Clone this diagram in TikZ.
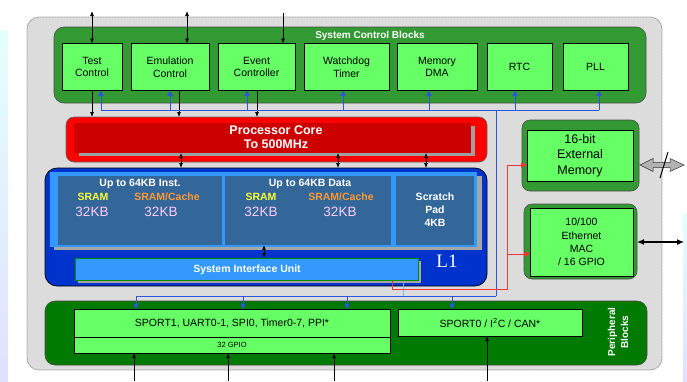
\documentclass[tikz,border=0pt]{standalone}
\usepackage{fontspec}
\setmainfont{Liberation Sans}
\newfontfamily\serifL{Liberation Serif}
\usetikzlibrary{arrows.meta}
\definecolor{bgray}{HTML}{DCDCDC}
\definecolor{scgreen}{HTML}{339933}
\definecolor{lgreen}{HTML}{66FF66}
\definecolor{pgreen}{HTML}{007A00}
\definecolor{cred}{HTML}{FF0000}
\definecolor{dred}{HTML}{CC0000}
\definecolor{lonblue}{HTML}{0033CC}
\definecolor{lblue}{HTML}{3399FF}
\definecolor{panel}{HTML}{336699}
\definecolor{busblue}{HTML}{2F55DD}
\definecolor{sramy}{HTML}{FFFF33}
\definecolor{sramo}{HTML}{FF9933}
\definecolor{kbpink}{HTML}{FFCCFF}
\definecolor{redline}{HTML}{FF3333}
\begin{document}
\begin{tikzpicture}[x=1pt,y=-1pt,
  every node/.style={inner sep=0pt, outer sep=0pt},
  frame/.style={draw=black!70, line width=0.6pt, rounded corners=10pt},
  gbox/.style={draw=black, line width=0.7pt, fill=lgreen, align=center,
    font=\fontsize{10.5}{12.5}\selectfont},
  wbold/.style={text=white, font=\bfseries\fontsize{10.5}{12.5}\selectfont, align=center},
  kb/.style={text=kbpink, font=\fontsize{13.5}{15}\selectfont},
  sramy/.style={text=sramy, font=\bfseries\fontsize{10.5}{12}\selectfont},
  sramo/.style={text=sramo, font=\bfseries\fontsize{10.5}{12}\selectfont},
  blk/.style={draw=black, line width=0.7pt, -{Latex[length=5pt,width=4pt]}},
  blk2/.style={draw=black, line width=0.7pt, {Latex[length=5pt,width=4pt]}-{Latex[length=5pt,width=4pt]}},
  bus/.style={draw=busblue, line width=0.7pt},
  busarr/.style={draw=busblue, line width=0.7pt, -{Triangle[length=5.5pt,width=5.5pt]}},
  redl/.style={draw=redline, line width=0.8pt},
  redarr/.style={draw=redline, line width=0.8pt, -{Triangle[length=6pt,width=5pt]}}
]
\useasboundingbox (0,0) rectangle (687,381);
% side strips of the slide background
\shade[top color=cyan!10, bottom color=blue!12] (0,30) rectangle (8,381);
\shade[top color=cyan!10, bottom color=blue!12] (683,213) rectangle (687,381);

% outer chip
\node[draw=gray!80, line width=0.8pt, dash pattern=on 1pt off 0.5pt, fill=bgray, rounded corners=12pt,
  minimum width=635pt, minimum height=353pt] (chip) at (344.5,193.5) {};

% system control blocks
\node[frame, fill=scgreen, minimum width=592pt, minimum height=76pt] (sc) at (350,65) {};
\node[wbold, font=\bfseries\fontsize{10}{12}\selectfont] (sctitle) at (370,36) {System Control Blocks};
\node[gbox, minimum width=60pt, minimum height=47pt] (tc) at (92,67) {Test\\Control};
\node[gbox, minimum width=78pt, minimum height=47pt] (ec) at (170,67) {Emulation\\Control};
\node[gbox, minimum width=77pt, minimum height=47pt] (evc) at (256.5,67) {Event\\Controller};
\node[gbox, minimum width=85pt, minimum height=47pt] (wd) at (346.5,67) {Watchdog\\Timer};
\node[gbox, minimum width=80pt, minimum height=47pt] (md) at (437,67) {Memory\\DMA};
\node[gbox, minimum width=65pt, minimum height=47pt] (rtc) at (519.5,67) {RTC};
\node[gbox, minimum width=65pt, minimum height=47pt] (pll) at (595.5,67) {PLL};

% processor core
\node[draw=black!60, line width=0.6pt, fill=cred, rounded corners=8pt,
  minimum width=421pt, minimum height=45pt] (pc) at (276.5,139.5) {};
\fill[gray!75] (79,126) rectangle (475,156);
\fill[dred] (74,123) rectangle (471,153);
\node[wbold, font=\bfseries\fontsize{12.5}{14}\selectfont] (pctext) at (276,137) {Processor Core\\To 500MHz};

% L1
\node[draw=black, line width=0.7pt, fill=lonblue, rounded corners=12pt,
  minimum width=442pt, minimum height=118pt] (l1) at (266,227) {};
\fill[gray!70] (54,176) rectangle (482,250);
\fill[lblue] (50,172) rectangle (477,247);
\node[fill=panel, minimum width=164pt, minimum height=69pt] (inst) at (140,210.5) {};
\node[fill=panel, minimum width=166pt, minimum height=69pt] (data) at (308,210.5) {};
\node[fill=panel, minimum width=78pt, minimum height=69pt] (scr) at (435,210.5) {};
\node[wbold] (insth) at (140,184) {Up to 64KB Inst.};
\node[sramy] (isram) at (93,197) {SRAM};
\node[sramo] (isc) at (167,197) {SRAM/Cache};
\node[kb] (ikb1) at (92,212) {32KB};
\node[kb] (ikb2) at (161,212) {32KB};
\node[wbold] (datah) at (310,184) {Up to 64KB Data};
\node[sramy] (dsram) at (261,197) {SRAM};
\node[sramo] (dsc) at (341,197) {SRAM/Cache};
\node[kb] (dkb1) at (261,212) {32KB};
\node[kb] (dkb2) at (340,212) {32KB};
\node[wbold, font=\bfseries\fontsize{10.5}{13}\selectfont] (scrt) at (435,210) {Scratch\\Pad\\4KB};
\fill[gray!70] (78,261) rectangle (421,283);
\node[draw=green!55!black, line width=0.6pt, fill=lblue, minimum width=343pt, minimum height=22pt] (siu) at (246.5,269) {};
\node[wbold] (siut) at (247,269.5) {System Interface Unit};
\node[text=white, font=\serifL\fontsize{19}{20}\selectfont] (l1t) at (447,261) {L1};

% external memory
\node[draw=black!70, line width=0.6pt, fill=scgreen, rounded corners=8pt,
  minimum width=117pt, minimum height=71pt] (emo) at (580.5,155.5) {};
\node[gbox, minimum width=106pt, minimum height=51pt, font=\fontsize{12.5}{15.5}\selectfont] (em) at (580,155.5) {16-bit\\External\\Memory};
% ethernet
\node[draw=black!70, line width=0.6pt, fill=scgreen, rounded corners=8pt,
  minimum width=113pt, minimum height=75pt] (etho) at (580.5,241.5) {};
\node[gbox, minimum width=103pt, minimum height=68pt, font=\fontsize{10.5}{13.3}\selectfont] (eth) at (581.5,242) {10/100\\Ethernet\\MAC\\/ 16 GPIO};

% peripheral blocks
\node[frame, fill=pgreen, minimum width=602pt, minimum height=64pt] (per) at (346,333) {};
\node[gbox, minimum width=316pt, minimum height=28pt] (sp1) at (232,323) {SPORT1, UART0-1, SPI0, Timer0-7, PPI*};
\node[gbox, minimum width=316pt, minimum height=16pt, font=\fontsize{7.5}{9}\selectfont] (gpio) at (232,345) {32 GPIO};
\node[gbox, minimum width=184pt, minimum height=27pt] (sp0) at (490,322.5) {SPORT0 / I\textsuperscript{2}C / CAN*};
\node[wbold, rotate=90, font=\bfseries\fontsize{10}{13}\selectfont] (pert) at (618,332) {Peripheral\\Blocks};

% ---- connectors ----
% top external arrows
\coordinate (t1) at (92,11);
\coordinate (t2) at (187,11);
\coordinate (t3) at (283,13);
\draw[blk2] (t1) -- (t1 |- tc.north);
\draw[blk2] (t2) -- (t2 |- ec.north);
\draw[blk] (t3) -- (t3 |- evc.north);
% control blocks to core
\draw[blk] (92,0 |- tc.south) -- (92,0 |- pc.north);
\draw[blk] (179,0 |- ec.south) -- (179,0 |- pc.north);
\draw[blk] (257,0 |- evc.south) -- (257,0 |- pc.north);
% top blue bus
\coordinate (bl) at (101,110);
\coordinate (br) at (599,110);
\coordinate (bj) at (496,110);
\coordinate (bb) at (496,296);
\draw[bus] (bl) -- (br);
\draw[busarr] (bl) -- (bl |- tc.south);
\draw[busarr] (170,110) -- (170,0 |- ec.south);
\draw[busarr] (247,110) -- (247,0 |- evc.south);
\draw[busarr] (343,110) -- (343,0 |- wd.south);
\draw[busarr] (429,110) -- (429,0 |- md.south);
\draw[busarr] (515,110) -- (515,0 |- rtc.south);
\draw[busarr] (br) -- (br |- pll.south);
\draw[bus] (bj) -- (bb);
% bottom blue bus
\coordinate (pl) at (136,296);
\draw[bus] (pl) -- (bb);
\draw[draw=lblue!70!white, line width=0.7pt] (403,283) -- (403,296);
\draw[busarr] (pl) -- (pl |- sp1.north);
\draw[busarr] (243,296) -- (243,0 |- sp1.north);
\draw[busarr] (347,296) -- (347,0 |- sp1.north);
\draw[busarr] (452,296) -- (452,0 |- sp0.north);
% core <-> L1
\draw[blk2] (181,153) -- (181,0 |- l1.north);
\draw[blk2] (338,153) -- (338,0 |- l1.north);
\draw[blk2] (426,153) -- (426,0 |- l1.north);
% data <-> SIU
\draw[blk2] (264,0 |- data.south) -- (264,0 |- siu.north);
% red lines to external memory / ethernet
\draw[redl] (392,281) -- (392,289) -- (507,289) -- (507,165);
\draw[redarr] (507,165) -- (507,165 -| em.west);
\draw[redarr] (508,254) -- (508,254 -| eth.west);
% right-side external links
\coordinate (xm) at (684,165);
\coordinate (xe) at (684,242);
\filldraw[fill=gray!60, draw=gray!40!black, line width=0.5pt]
  (640,165) -- (653,158.5) -- (653,162.5) -- (670,162.5) -- (670,158.5) -- (xm)
  -- (670,171.5) -- (670,167.5) -- (653,167.5) -- (653,171.5) -- cycle;
\draw[black, line width=1pt] (660,178) -- (668,152);
\draw[black, line width=1.1pt, {Latex[length=7pt,width=6pt]}-{Latex[length=7pt,width=6pt]}] (xe -| etho.east) -- (xe);
% bottom external arrows
\coordinate (b1) at (134,381);
\coordinate (b2) at (228,381);
\coordinate (b3) at (334,381);
\coordinate (b4) at (487,381);
\draw[blk] (b1) -- (b1 |- gpio.south);
\draw[blk] (b2) -- (b2 |- gpio.south);
\draw[blk] (b3) -- (b3 |- gpio.south);
\draw[blk] (b4) -- (b4 |- sp0.south);
\end{tikzpicture}
\end{document}
